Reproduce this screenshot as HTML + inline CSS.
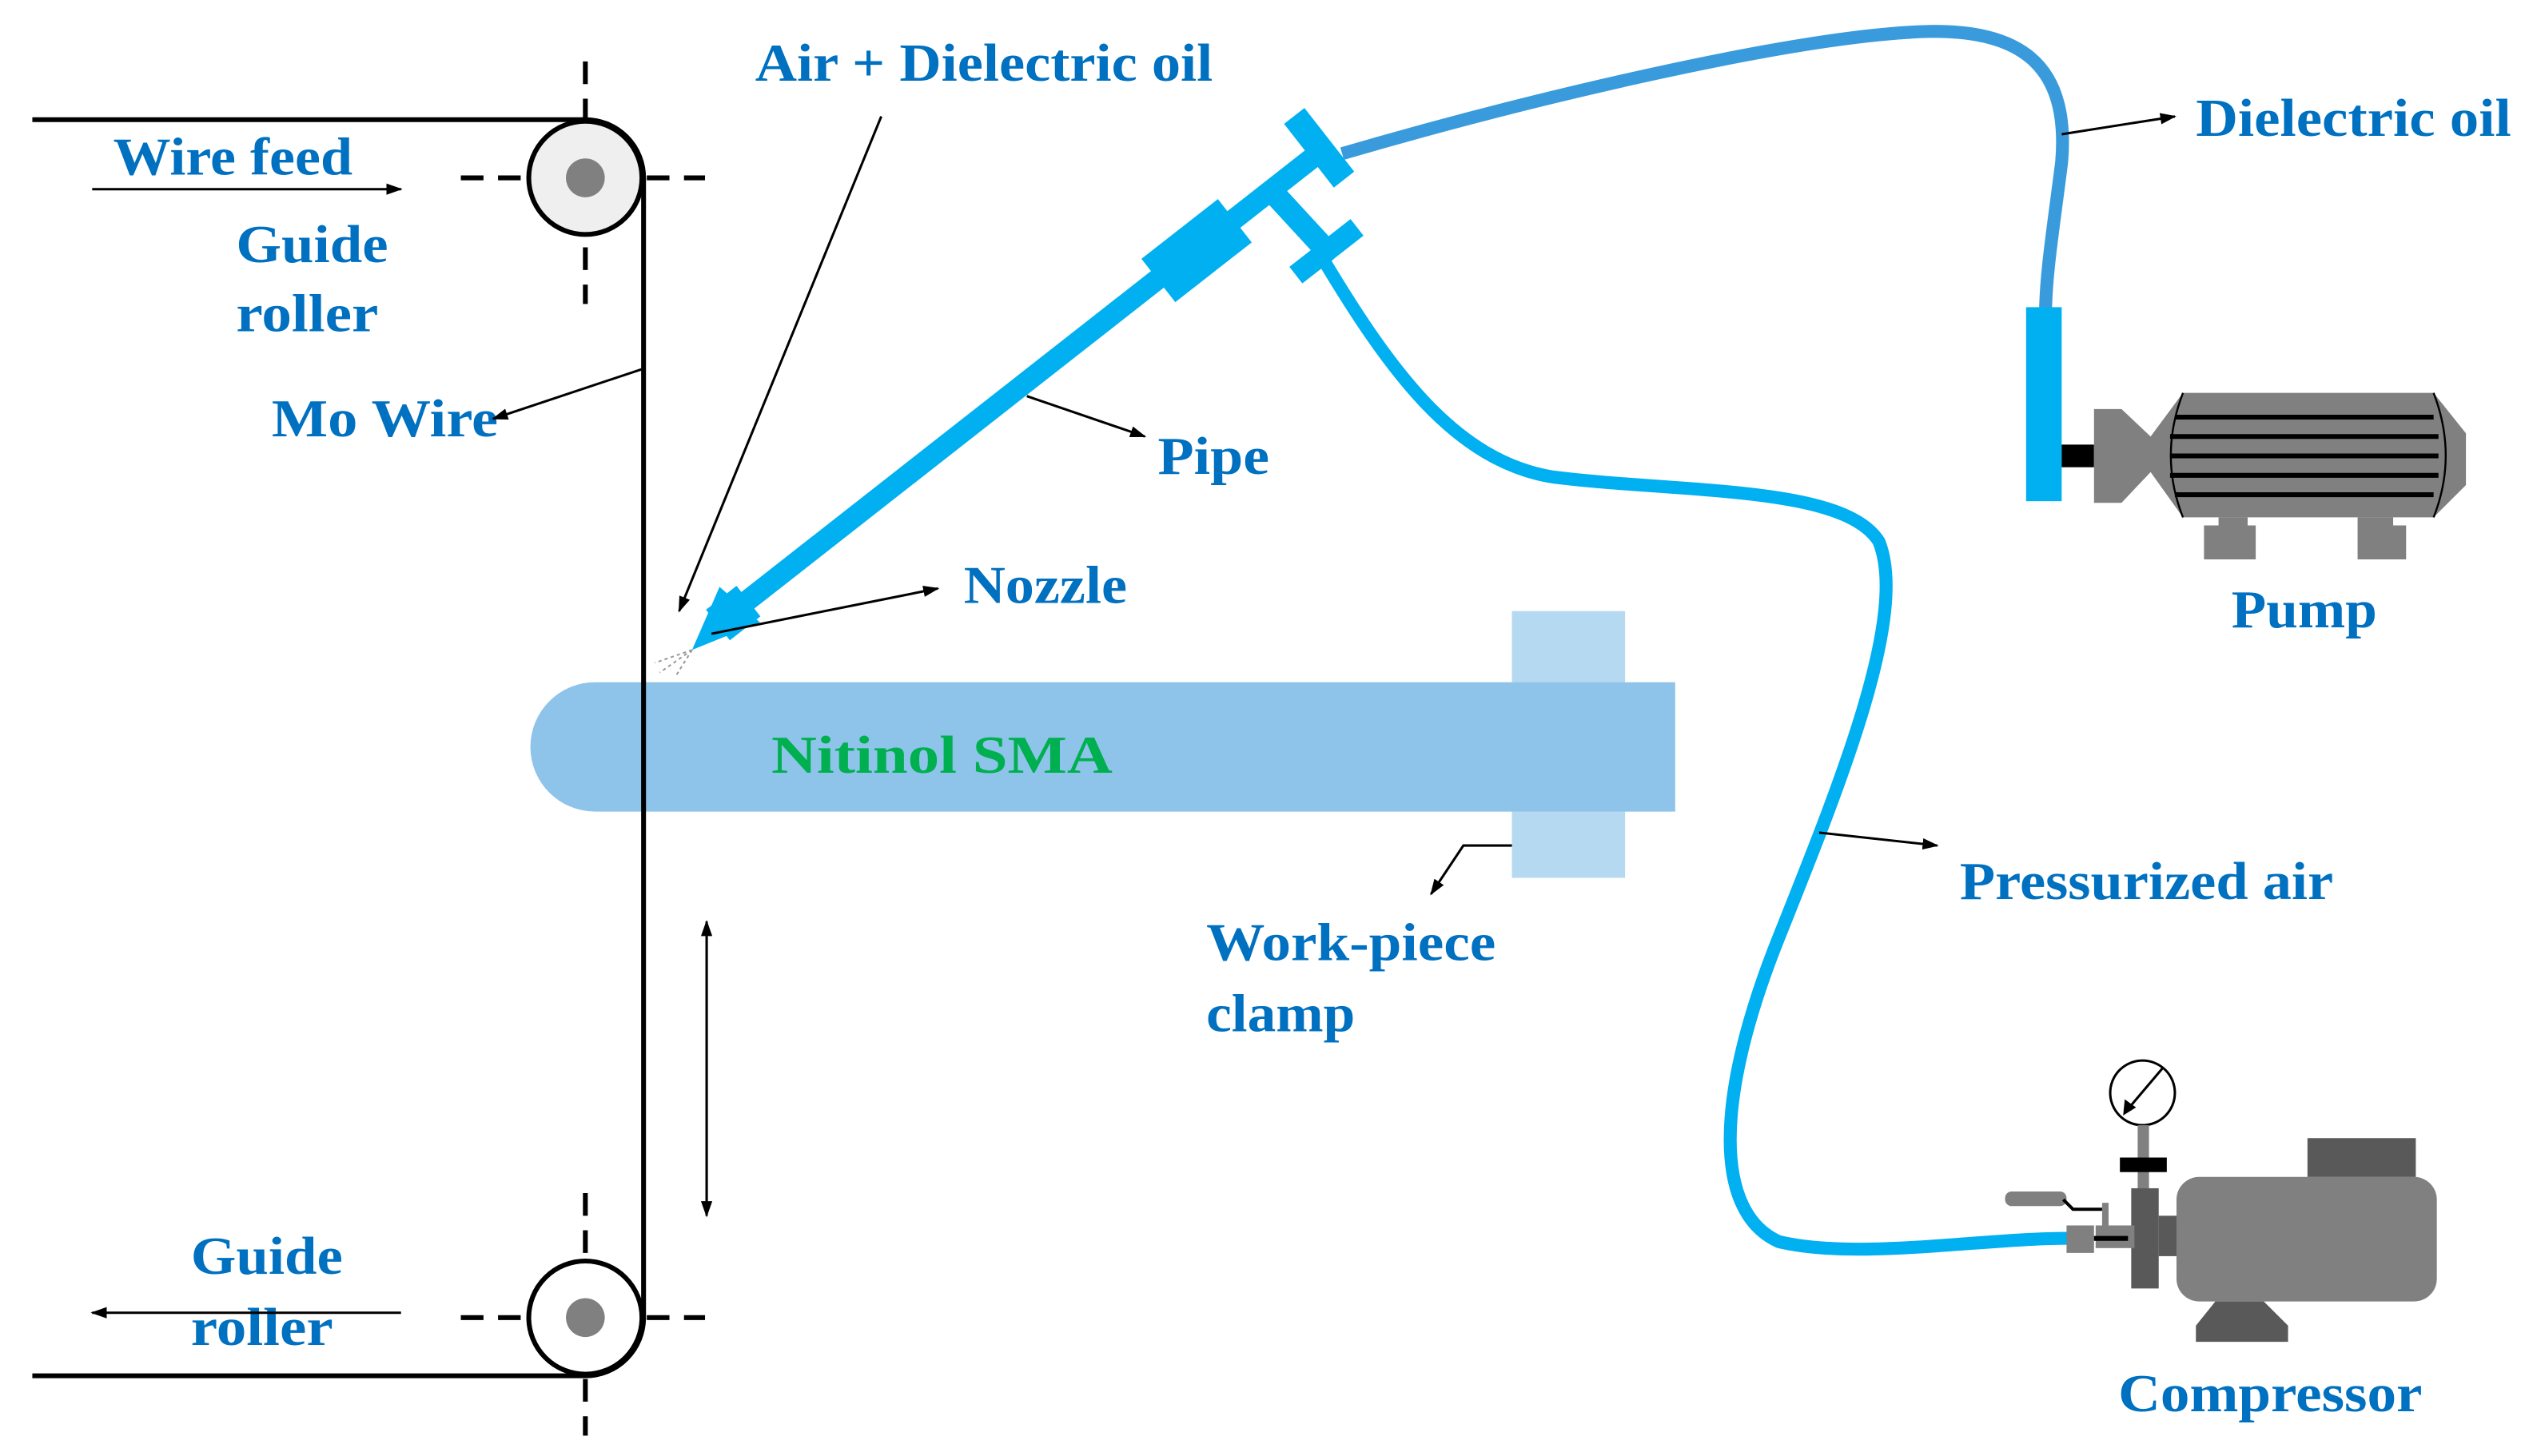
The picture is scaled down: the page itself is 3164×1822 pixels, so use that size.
<!DOCTYPE html>
<html><head><style>
html,body{margin:0;padding:0;background:#fff;}
svg{display:block;}
text{font-family:"Liberation Serif",serif;font-weight:bold;fill:#0070C0;font-size:33px;}
</style></head><body>
<svg width="3164" height="1822" viewBox="0 0 1564 900.6" xmlns="http://www.w3.org/2000/svg">
<defs>
<marker id="a" markerWidth="10" markerHeight="10" refX="9" refY="5" orient="auto" markerUnits="userSpaceOnUse"><path d="M0,1.5 L10,5 L0,8.5 Z" fill="#000"/></marker>
</defs>
<rect x="935" y="378" width="70" height="165" fill="#B6D9F2"/>
<path d="M368,422 H1036 V502 H368 A40,40 0 0 1 368,422 Z" fill="#8EC4E9"/>
<text x="477" y="478" textLength="211" lengthAdjust="spacingAndGlyphs" style="fill:#00B050">Nitinol SMA</text>
<path d="M20,74 H362 A36,36 0 0 1 398,110 V815 A36,36 0 0 1 362,851 H20" fill="none" stroke="#000" stroke-width="3"/>
<g stroke="#000" stroke-width="3" stroke-dasharray="14,9" fill="none">
<line x1="362" y1="38" x2="362" y2="188"/><line x1="285" y1="110" x2="436" y2="110"/>
<line x1="362" y1="738" x2="362" y2="888"/><line x1="285" y1="815" x2="436" y2="815"/>
</g>
<circle cx="362" cy="110" r="35" fill="#EFEFEF" stroke="#000" stroke-width="3"/>
<circle cx="362" cy="110" r="12" fill="#808080"/>
<circle cx="362" cy="815" r="35" fill="#fff" stroke="#000" stroke-width="3"/>
<circle cx="362" cy="815" r="12" fill="#808080"/>
<text x="70" y="108" textLength="148" lengthAdjust="spacingAndGlyphs">Wire feed</text>
<line x1="57" y1="117" x2="248" y2="117" stroke="#000" stroke-width="1.5" marker-end="url(#a)"/>
<text x="146" y="162" textLength="94" lengthAdjust="spacingAndGlyphs">Guide</text><text x="146" y="205" textLength="88" lengthAdjust="spacingAndGlyphs">roller</text>
<text x="168" y="270" textLength="140" lengthAdjust="spacingAndGlyphs">Mo Wire</text>
<line x1="398" y1="228" x2="305" y2="259" stroke="#000" stroke-width="1.5" marker-end="url(#a)"/>
<text x="118" y="788" textLength="94" lengthAdjust="spacingAndGlyphs">Guide</text><text x="118" y="832" textLength="88" lengthAdjust="spacingAndGlyphs">roller</text>
<line x1="248" y1="812" x2="57" y2="812" stroke="#000" stroke-width="1.5" marker-end="url(#a)"/>
<line x1="437" y1="580" x2="437" y2="752" stroke="#000" stroke-width="1.5" marker-end="url(#a)"/>
<line x1="437" y1="745" x2="437" y2="570" stroke="#000" stroke-width="1.5" marker-end="url(#a)"/>
<path d="M830,95 C950,60 1100,25 1180,20 C1250,15 1280,40 1275,100 C1270,140 1265,170 1265,195" fill="none" stroke="#3A9BDC" stroke-width="8"/>
<path d="M818,160 C860,230 900,285 960,295 C1040,305 1140,300 1162,335 C1180,380 1140,480 1100,580 C1060,680 1060,750 1100,768 C1150,780 1230,765 1285,766" fill="none" stroke="#00B0F0" stroke-width="8"/>
<g fill="#00B0F0">
<line x1="445" y1="385" x2="815" y2="95" stroke="#00B0F0" stroke-width="13"/>
<g transform="translate(740,155) rotate(-38)"><rect x="-30" y="-17" width="60" height="34"/></g>
<g transform="translate(815,92) rotate(-38)"><rect x="-7" y="-25" width="16" height="50"/></g>
<line x1="790" y1="122" x2="825" y2="160" stroke="#00B0F0" stroke-width="14"/>
<g transform="translate(820,155) rotate(52)"><rect x="-6" y="-24" width="13" height="48"/></g>
<path d="M428,402 L445,363 L470,385 Z"/>
<g transform="translate(455,378) rotate(-38)"><rect x="-14" y="-12" width="24" height="24"/></g>
</g>
<g stroke="#999" stroke-width="1" stroke-dasharray="2,2"><line x1="428" y1="402" x2="405" y2="410"/><line x1="428" y1="402" x2="408" y2="416"/><line x1="428" y1="402" x2="418" y2="418"/></g>
<text x="467" y="50" textLength="283" lengthAdjust="spacingAndGlyphs">Air + Dielectric oil</text>
<line x1="545" y1="72" x2="420" y2="378" stroke="#000" stroke-width="1.5" marker-end="url(#a)"/>
<text x="716" y="293" textLength="69" lengthAdjust="spacingAndGlyphs">Pipe</text>
<line x1="635" y1="245" x2="708" y2="270" stroke="#000" stroke-width="1.5" marker-end="url(#a)"/>
<text x="596" y="373" textLength="101" lengthAdjust="spacingAndGlyphs">Nozzle</text>
<line x1="440" y1="392" x2="580" y2="364" stroke="#000" stroke-width="1.5" marker-end="url(#a)"/>
<text x="746" y="594" textLength="179" lengthAdjust="spacingAndGlyphs">Work-piece</text><text x="746" y="638" textLength="92" lengthAdjust="spacingAndGlyphs">clamp</text>
<polyline points="935,523 905,523 885,553" fill="none" stroke="#000" stroke-width="1.5" marker-end="url(#a)"/>
<text x="1212" y="556" textLength="231" lengthAdjust="spacingAndGlyphs">Pressurized air</text>
<line x1="1125" y1="515" x2="1198" y2="523" stroke="#000" stroke-width="1.5" marker-end="url(#a)"/>
<text x="1358" y="84" textLength="195" lengthAdjust="spacingAndGlyphs">Dielectric oil</text>
<line x1="1275" y1="83" x2="1345" y2="72" stroke="#000" stroke-width="1.5" marker-end="url(#a)"/>
<rect x="1253" y="190" width="22" height="120" fill="#00B0F0"/>
<rect x="1275" y="275" width="20" height="14" fill="#000"/>
<path d="M1295,253 H1312 L1330,270 L1350,243 H1505 L1525,268 V300 L1505,320 H1350 L1330,292 L1312,311 H1295 Z" fill="#808080"/>
<g stroke="#000" stroke-width="3"><line x1="1345" y1="258" x2="1505" y2="258"/><line x1="1342" y1="270" x2="1508" y2="270"/><line x1="1342" y1="282" x2="1508" y2="282"/><line x1="1342" y1="294" x2="1508" y2="294"/><line x1="1345" y1="306" x2="1505" y2="306"/></g>
<path d="M1350,243 Q1335,282 1350,320 M1505,243 Q1520,282 1505,320" fill="none" stroke="#000" stroke-width="1.2"/>
<path d="M1372,320 H1390 V325 H1395 V346 H1363 V325 H1372 Z M1458,320 H1480 V325 H1488 V346 H1458 Z" fill="#808080"/>
<text x="1380" y="388" textLength="90" lengthAdjust="spacingAndGlyphs">Pump</text>
<circle cx="1325" cy="676" r="20" fill="#fff" stroke="#000" stroke-width="1.5"/>
<line x1="1338" y1="660" x2="1316" y2="686" stroke="#000" stroke-width="1.5"/>
<path d="M1313,690 L1314,680 L1321,685 Z" fill="#000"/>
<rect x="1322" y="696" width="7" height="40" fill="#808080"/>
<rect x="1311" y="716" width="29" height="9" fill="#000"/>
<rect x="1318" y="735" width="17" height="62" fill="#595959"/>
<rect x="1335" y="752" width="15" height="25" fill="#595959"/>
<rect x="1296" y="758" width="24" height="14" fill="#808080"/>
<rect x="1346" y="728" width="161" height="77" rx="14" fill="#808080"/>
<rect x="1427" y="704" width="67" height="24" fill="#595959"/>
<path d="M1370,805 H1400 L1415,820 V830 H1358 V820 Z" fill="#595959"/>
<rect x="1240" y="737" width="38" height="9" rx="4" fill="#808080"/>
<polyline points="1276,742 1282,748 1300,748" fill="none" stroke="#000" stroke-width="2"/>
<rect x="1300" y="744" width="4" height="26" fill="#808080"/>
<rect x="1278" y="758" width="17" height="17" fill="#808080"/>
<line x1="1295" y1="766" x2="1316" y2="766" stroke="#000" stroke-width="3"/>
<text x="1310" y="873" textLength="188" lengthAdjust="spacingAndGlyphs">Compressor</text>
</svg>
</body></html>
